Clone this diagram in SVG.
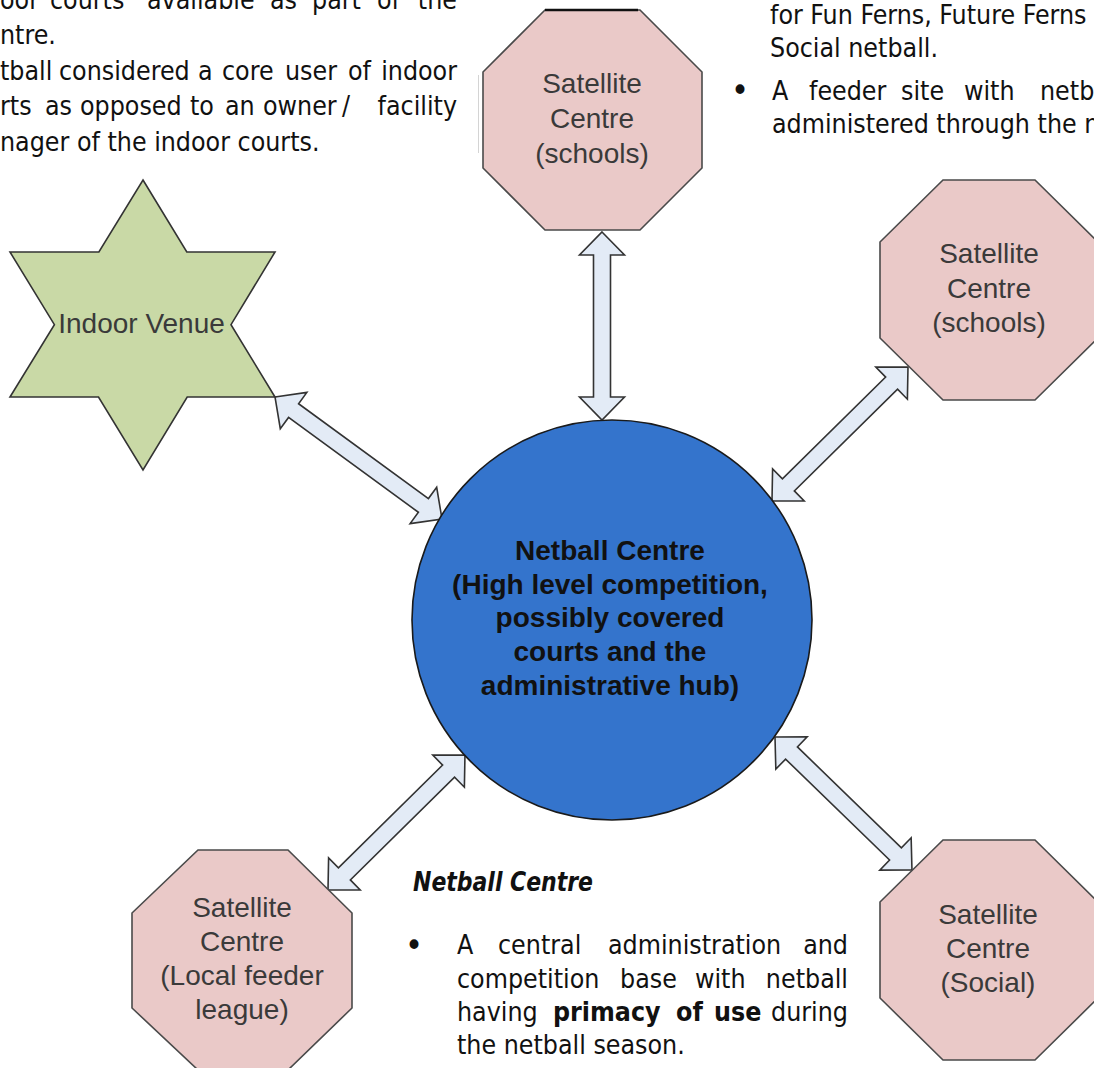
<svg xmlns="http://www.w3.org/2000/svg" width="1094" height="1068" viewBox="0 0 1094 1068">
<style>
.body{font-family:'DejaVu Sans Condensed','DejaVu Sans',sans-serif;font-stretch:condensed;font-size:26.5px;fill:#111}
.b{font-weight:bold}
.it{font-style:italic}
.bul{font-size:34px}
.oct{fill:#eac9c8;stroke:#4a4a4a;stroke-width:1.6}
.star{fill:#c9d9a6;stroke:#333;stroke-width:1.6}
.hub{fill:#3474cc;stroke:#1a1a1a;stroke-width:1.6}
.lbl{font-family:'Liberation Sans',Arial,sans-serif;font-size:28px;fill:#3a3a3a;text-anchor:middle}
.hubl{font-family:'Liberation Sans',Arial,sans-serif;font-size:28px;font-weight:bold;fill:#111;text-anchor:middle}
.arr{fill:#e3ebf6;stroke:#333;stroke-width:1.6;stroke-linejoin:miter}
</style>
<rect width="1094" height="1068" fill="#fff"/>

<g id="text-left">
<text class="body" y="9"><tspan x="0">oor</tspan><tspan x="50">courts</tspan><tspan x="147">available</tspan><tspan x="270">as</tspan><tspan x="312">part</tspan><tspan x="377">of</tspan><tspan x="457" text-anchor="end">the</tspan></text>
<text class="body" x="0" y="44">ntre.</text>
<text class="body" y="80"><tspan x="0">tball</tspan><tspan x="59">considered</tspan><tspan x="198">a</tspan><tspan x="222">core</tspan><tspan x="285">user</tspan><tspan x="348">of</tspan><tspan x="457" text-anchor="end">indoor</tspan></text>
<text class="body" y="115"><tspan x="0">rts</tspan><tspan x="45">as</tspan><tspan x="80">opposed</tspan><tspan x="190">to</tspan><tspan x="225">an</tspan><tspan x="263">owner</tspan><tspan x="342">/</tspan><tspan x="457" text-anchor="end">facility</tspan></text>
<text class="body" x="0" y="151">nager of the indoor courts.</text>
<line x1="478.5" y1="75" x2="478.5" y2="153" stroke="#d4d4d4" stroke-width="1"/>
</g>

<g id="text-right">
<text class="body" x="770" y="24">for Fun Ferns, Future Ferns</text>
<text class="body" x="770" y="57">Social netball.</text>
<text class="body bul" x="731" y="102">•</text>
<text class="body" y="100"><tspan x="772">A</tspan><tspan x="809">feeder</tspan><tspan x="901">site</tspan><tspan x="964">with</tspan><tspan x="1040">netba</tspan></text>
<text class="body" x="772" y="133">administered through the n</text>
</g>

<g id="connectors">
<polygon class="arr" transform="translate(602,232) rotate(90)" points="0,0 23,-22.5 23,-8.5 165,-8.5 165,-22.5 188,0 165,22.5 165,8.5 23,8.5 23,22.5"/>
<polygon class="arr" transform="translate(275,397) rotate(36.15)" points="0,0 23,-22.5 23,-8.5 183.8,-8.5 183.8,-22.5 206.8,0 183.8,22.5 183.8,8.5 23,8.5 23,22.5"/>
<polygon class="arr" transform="translate(772,501) rotate(-44.57)" points="0,0 23,-22.5 23,-8.5 167.9,-8.5 167.9,-22.5 190.9,0 167.9,22.5 167.9,8.5 23,8.5 23,22.5"/>
<polygon class="arr" transform="translate(328,890) rotate(-44.58)" points="0,0 23,-22.5 23,-8.5 169.3,-8.5 169.3,-22.5 192.3,0 169.3,22.5 169.3,8.5 23,8.5 23,22.5"/>
<polygon class="arr" transform="translate(775,737) rotate(44.15)" points="0,0 23,-22.5 23,-8.5 167.9,-8.5 167.9,-22.5 190.9,0 167.9,22.5 167.9,8.5 23,8.5 23,22.5"/>
</g>

<g id="node-indoor-venue">
<polygon class="star" points="143,180 186.8,252 275,252 231,324.7 275,397 187.2,397 143,470 98.5,397 10,397 54.4,324.7 10,252 98.9,252"/>
<text class="lbl" x="141.5" y="333">Indoor Venue</text>
</g>

<g id="node-satellite-top">
<polygon class="oct" points="545,10 640,10 702,72 702,168 640,230 545,230 483,168 483,72"/>
<line x1="545" y1="10" x2="638" y2="10" stroke="#111" stroke-width="2.5"/>
<text class="lbl" x="592" y="93">Satellite</text>
<text class="lbl" x="592" y="128">Centre</text>
<text class="lbl" x="592" y="163">(schools)</text>
</g>

<g id="node-satellite-right">
<polygon class="oct" points="943,180 1035,180 1098,242 1098,338 1035,400 943,400 880,338 880,242"/>
<text class="lbl" x="989" y="263">Satellite</text>
<text class="lbl" x="989" y="298">Centre</text>
<text class="lbl" x="989" y="332">(schools)</text>
</g>

<g id="node-satellite-local">
<polygon class="oct" points="198,850 288,850 352,913 352,1008 288,1070 198,1070 132,1008 132,913"/>
<text class="lbl" x="242" y="917">Satellite</text>
<text class="lbl" x="242" y="951">Centre</text>
<text class="lbl" x="242" y="985">(Local feeder</text>
<text class="lbl" x="242" y="1019">league)</text>
</g>

<g id="node-satellite-social">
<polygon class="oct" points="943,840 1035,840 1098,902 1098,998 1035,1060 943,1060 880,998 880,902"/>
<text class="lbl" x="988" y="924">Satellite</text>
<text class="lbl" x="988" y="958">Centre</text>
<text class="lbl" x="988" y="992">(Social)</text>
</g>

<g id="node-netball-centre">
<circle class="hub" cx="612" cy="620" r="200"/>
<text class="hubl" x="610" y="560">Netball Centre</text>
<text class="hubl" x="610" y="594">(High level competition,</text>
<text class="hubl" x="610" y="627">possibly covered</text>
<text class="hubl" x="610" y="661">courts and the</text>
<text class="hubl" x="610" y="695">administrative hub)</text>
</g>

<g id="text-bottom">
<text class="body it b" x="413" y="891" textLength="180" lengthAdjust="spacingAndGlyphs">Netball Centre</text>
<text class="body bul" x="405" y="957">•</text>
<text class="body" y="954"><tspan x="457">A</tspan><tspan x="498">central</tspan><tspan x="608">administration</tspan><tspan x="848" text-anchor="end">and</tspan></text>
<text class="body" y="988"><tspan x="457">competition</tspan><tspan x="620">base</tspan><tspan x="695">with</tspan><tspan x="848" text-anchor="end">netball</tspan></text>
<text class="body" y="1021"><tspan x="457">having</tspan><tspan x="553" class="b">primacy</tspan><tspan x="676" class="b">of</tspan><tspan x="714" class="b">use</tspan><tspan x="848" text-anchor="end">during</tspan></text>
<text class="body" x="457" y="1054">the netball season.</text>
</g>
</svg>
